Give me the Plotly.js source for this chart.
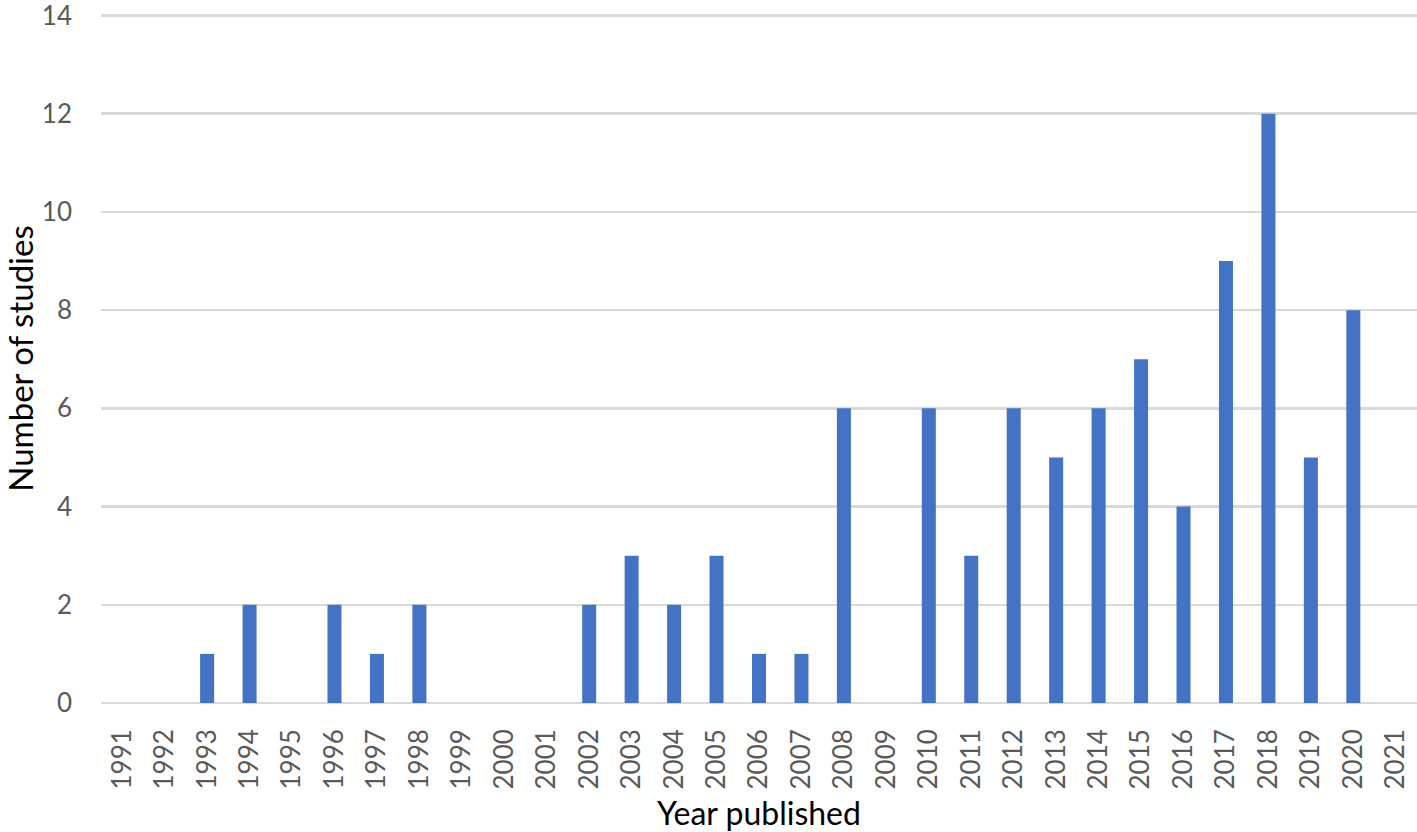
<!DOCTYPE html>
<html>
<head>
<meta charset="utf-8">
<script src="https://cdn.plot.ly/plotly-3.0.1.min.js"></script>
<style>
  html, body { margin: 0; padding: 0; background: #fff; }
  #chart { width: 1417px; height: 832px; }
</style>
</head>
<body>
<div id="chart"></div>
<script>
var years = ['1991', '1992', '1993', '1994', '1995', '1996', '1997', '1998', '1999', '2000',
  '2001', '2002', '2003', '2004', '2005', '2006', '2007', '2008', '2009', '2010',
  '2011', '2012', '2013', '2014', '2015', '2016', '2017', '2018', '2019', '2020', '2021'];
var studies = [0, 0, 1, 2, 0, 2, 1, 2, 0, 0,
  0, 2, 3, 2, 3, 1, 1, 6, 0, 6,
  3, 6, 5, 6, 7, 4, 9, 12, 5, 8, 0];
var yTicks = [0, 2, 4, 6, 8, 10, 12, 14];

var trace1 = {
  x: years,
  y: studies,
  type: 'bar',
  marker: {color: '#4472c4', line: {width: 0}},
  hoverinfo: 'x+y'
};

var layout = {
  width: 1417,
  height: 832,
  margin: {l: 101, r: 0, t: 14, b: 129},
  paper_bgcolor: '#ffffff',
  plot_bgcolor: '#ffffff',
  font: {family: 'Lato, "Open Sans", sans-serif', color: '#595959', size: 25},
  bargap: 0.67,
  showlegend: false,
  xaxis: {
    type: 'category',
    tickangle: -90,
    showgrid: false,
    zeroline: false,
    showline: false,
    ticks: '',
    ticklabelstandoff: 20,
    tickfont: {size: 26, color: '#595959'},
    title: {text: 'Year published', font: {size: 32, color: '#000000'}, standoff: 16}
  },
  yaxis: {
    range: [0, 14.03],
    tickvals: yTicks,
    showgrid: true,
    gridcolor: '#d9d9d9',
    gridwidth: 2.5,
    zeroline: true,
    zerolinecolor: '#d9d9d9',
    zerolinewidth: 2.5,
    showline: false,
    ticks: '',
    ticklabelstandoff: 28,
    ticklabeloverflow: 'allow',
    tickfont: {size: 26, color: '#595959'},
    title: {text: 'Number of studies', font: {size: 33, color: '#000000'}, standoff: 22}
  }
};

Plotly.newPlot('chart', [trace1], layout, {displayModeBar: false, staticPlot: true});
</script>
</body>
</html>
